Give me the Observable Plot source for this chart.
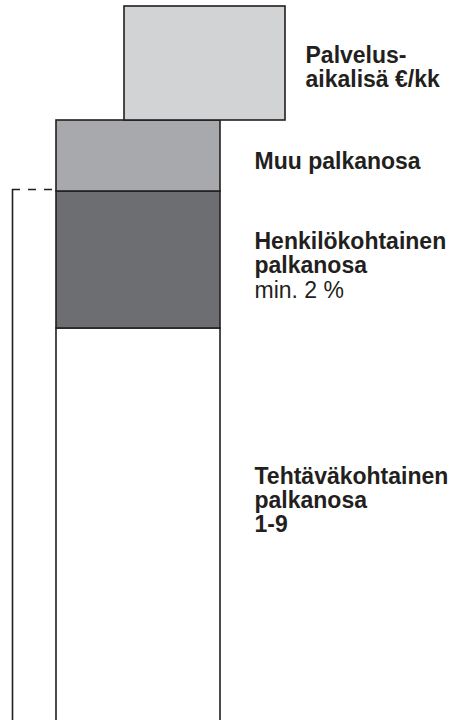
<!DOCTYPE html>
<html>
<head>
<meta charset="utf-8">
<script src="https://cdn.jsdelivr.net/npm/d3@7"></script>
<script src="https://cdn.jsdelivr.net/npm/@observablehq/plot@0.6"></script>
<style>
  html, body { margin: 0; padding: 0; background: #fff; }
  #chart svg { display: block; }
</style>
</head>
<body>
<div id="chart"></div>
<script>
// Salary components, stacked from the bottom (relative amounts)
const parts = ["Tehtäväkohtainen", "Henkilökohtainen", "Muu", "Palvelusaikalisä"];
const amounts = [395, 137, 71, 114];
// horizontal extent of each box (chart units)
const boxFrom = [56, 56, 56, 124];
const boxTo = [220, 220, 220, 285];
const partColors = ["#ffffff", "#6d6e71", "#a7a9ac", "#d1d3d4"];

// labels
const boldLabels = [
  "Tehtäväkohtainen\npalkanosa\n1-9",
  "Henkilökohtainen\npalkanosa",
  "Muu palkanosa",
  "Palvelus-\naikalisä €/kk"
];
const labelX = [254, 254, 254, 305];
const labelY = [257, 492, 572, 678];
const noteLabel = ["min. 2 %"];
const noteX = [254];
const noteY = [492];

// bracket marking the level of the guaranteed part
const bracketX = [12];
const bracketLevel = [534];

const starts = [0, ...d3.cumsum(amounts)].slice(0, amounts.length);
const boxes = parts.map((p, i) => ({
  part: p, x1: boxFrom[i], x2: boxTo[i], y1: starts[i], y2: starts[i] + amounts[i]
}));
const labels = boldLabels.map((t, i) => ({text: t, x: labelX[i], y: labelY[i]}));
const notes = noteLabel.map((t, i) => ({text: t, x: noteX[i], y: noteY[i]}));

const ink = "#231f20";
const font = "'Liberation Sans', Arial, Helvetica, sans-serif";

const chart = Plot.plot({
  width: 458,
  height: 720,
  margin: 0,
  x: {domain: [0, 458], axis: null},
  y: {domain: [3, 723], axis: null},
  color: {domain: parts, range: partColors},
  style: {fontFamily: font, background: "#fff"},
  marks: [
    Plot.ruleX(bracketX, {x: d => d, y1: 0, y2: bracketLevel[0], stroke: ink, strokeWidth: 1.6}),
    Plot.ruleY(bracketLevel, {y: d => d, x1: bracketX[0], x2: boxFrom[0], stroke: ink, strokeWidth: 1.6, strokeDasharray: "8,8"}),
    Plot.rect(boxes, {x1: "x1", x2: "x2", y1: "y1", y2: "y2", fill: "part", stroke: ink, strokeWidth: 1.6}),
    Plot.text(labels, {x: "x", y: "y", text: "text", textAnchor: "start", lineAnchor: "top",
      fontSize: 23, fontWeight: "bold", lineHeight: 24 / 23, fill: ink}),
    Plot.text(notes, {x: "x", y: "y", text: "text", textAnchor: "start", lineAnchor: "top",
      dy: 50, fontSize: 23, fontWeight: "normal", fill: ink})
  ]
});
document.getElementById("chart").appendChild(chart);
</script>
</body>
</html>
